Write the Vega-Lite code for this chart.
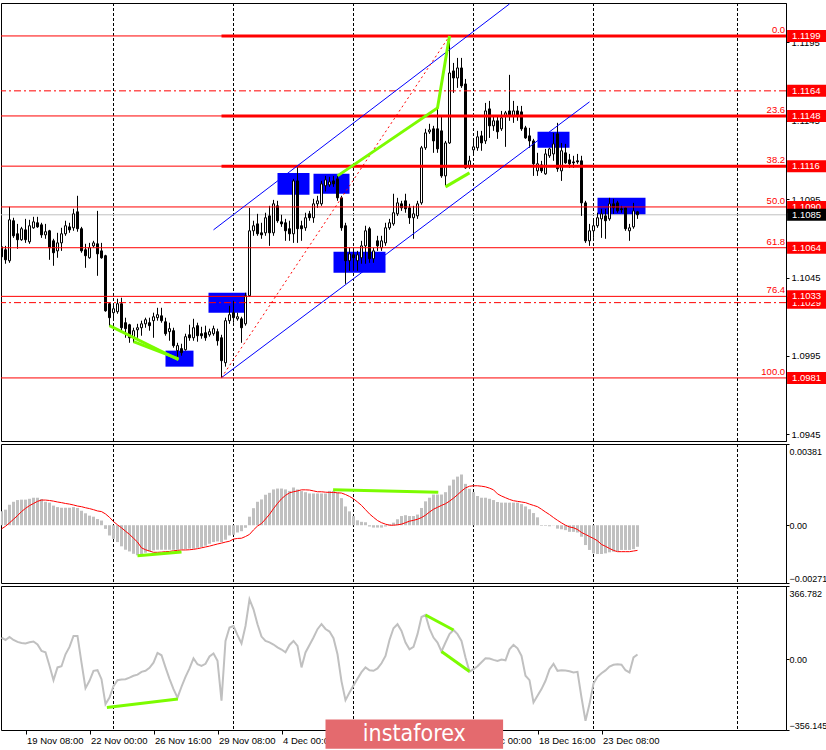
{
"$schema":"https://vega.github.io/schema/vega-lite/v6.json",
"padding":{"left":0,"top":2,"right":0,"bottom":0},
"background":"#ffffff",
"spacing":3,
"bounds":"flush",
"config":{"view":{"stroke":"#000000","strokeWidth":1},"axis":{"labelFont":"Liberation Sans","labelFontSize":9.5,"labelColor":"#000000","tickColor":"#000000","domainColor":"#000000","grid":false},"font":"Liberation Sans"},
"datasets":{
"b":[
{"i":0,"o":1.10646,"h":1.10684,"l":1.10544,"c":1.10582,"m":0.00065,"s":-0.00017,"k":108},
{"i":1,"o":1.10627,"h":1.10652,"l":1.10538,"c":1.10563,"m":0.00073,"s":-0.00005,"k":96},
{"i":2,"o":1.10557,"h":1.10901,"l":1.10544,"c":1.10818,"m":0.00096,"s":0.00011,"k":111},
{"i":3,"o":1.10812,"h":1.10831,"l":1.10703,"c":1.10716,"m":0.0011,"s":0.00028,"k":96},
{"i":4,"o":1.10729,"h":1.10792,"l":1.10633,"c":1.10691,"m":0.00118,"s":0.00045,"k":86},
{"i":5,"o":1.10691,"h":1.10773,"l":1.10684,"c":1.10761,"m":0.0012,"s":0.00064,"k":81},
{"i":6,"o":1.10754,"h":1.10824,"l":1.10671,"c":1.10691,"m":0.0012,"s":0.00079,"k":78},
{"i":7,"o":1.10678,"h":1.10818,"l":1.10665,"c":1.1078,"m":0.00124,"s":0.00092,"k":84},
{"i":8,"o":1.10767,"h":1.10837,"l":1.10761,"c":1.10805,"m":0.00129,"s":0.00102,"k":88},
{"i":9,"o":1.10799,"h":1.10837,"l":1.10767,"c":1.10773,"m":0.00129,"s":0.00112,"k":73},
{"i":10,"o":1.10786,"h":1.10799,"l":1.10703,"c":1.10722,"m":0.00123,"s":0.00118,"k":41},
{"i":11,"o":1.10722,"h":1.10792,"l":1.10697,"c":1.10742,"m":0.0011,"s":0.00118,"k":34},
{"i":12,"o":1.10748,"h":1.10754,"l":1.10563,"c":1.1064,"m":0.00106,"s":0.00116,"k":-34},
{"i":13,"o":1.10684,"h":1.10697,"l":1.10525,"c":1.10608,"m":0.00092,"s":0.00113,"k":-106},
{"i":14,"o":1.1062,"h":1.10735,"l":1.10576,"c":1.10671,"m":0.00085,"s":0.00109,"k":-42},
{"i":15,"o":1.10671,"h":1.10767,"l":1.1062,"c":1.10729,"m":0.00082,"s":0.00106,"k":-36},
{"i":16,"o":1.10729,"h":1.10812,"l":1.10716,"c":1.1078,"m":0.00082,"s":0.00102,"k":24},
{"i":17,"o":1.10773,"h":1.10799,"l":1.10735,"c":1.10754,"m":0.00082,"s":0.00099,"k":61},
{"i":18,"o":1.10767,"h":1.10888,"l":1.10748,"c":1.10856,"m":0.00085,"s":0.00095,"k":116},
{"i":19,"o":1.10869,"h":1.10971,"l":1.10742,"c":1.10761,"m":0.00081,"s":0.0009,"k":116},
{"i":20,"o":1.10761,"h":1.10773,"l":1.10608,"c":1.1062,"m":0.00068,"s":0.00087,"k":-18},
{"i":21,"o":1.10627,"h":1.10665,"l":1.10512,"c":1.10589,"m":0.00056,"s":0.00082,"k":-146},
{"i":22,"o":1.10576,"h":1.10671,"l":1.1057,"c":1.1064,"m":0.00045,"s":0.00078,"k":-109},
{"i":23,"o":1.10652,"h":1.10684,"l":1.1064,"c":1.10671,"m":0.0004,"s":0.00073,"k":-59},
{"i":24,"o":1.10665,"h":1.10875,"l":1.10461,"c":1.10601,"m":0.00029,"s":0.00067,"k":-56},
{"i":25,"o":1.1062,"h":1.10671,"l":1.1057,"c":1.10576,"m":0.00022,"s":0.00064,"k":-101},
{"i":26,"o":1.10589,"h":1.10595,"l":1.10232,"c":1.10238,"m":-0.00017,"s":0.00053,"k":-226},
{"i":27,"o":1.10283,"h":1.10289,"l":1.10143,"c":1.10194,"m":-0.00048,"s":0.00037,"k":-193},
{"i":28,"o":1.10226,"h":1.10283,"l":1.10175,"c":1.10251,"m":-0.00064,"s":0.00017,"k":-136},
{"i":29,"o":1.10232,"h":1.10315,"l":1.10219,"c":1.10283,"m":-0.00079,"s":0.00002,"k":-106},
{"i":30,"o":1.10283,"h":1.10321,"l":1.10111,"c":1.1013,"m":-0.00099,"s":-0.00012,"k":-103},
{"i":31,"o":1.10162,"h":1.10194,"l":1.10066,"c":1.10124,"m":-0.00115,"s":-0.00028,"k":-101},
{"i":32,"o":1.10149,"h":1.10155,"l":1.10034,"c":1.10066,"m":-0.00123,"s":-0.00043,"k":-93},
{"i":33,"o":1.10066,"h":1.1013,"l":1.10034,"c":1.10111,"m":-0.00134,"s":-0.00061,"k":-84},
{"i":34,"o":1.10117,"h":1.10155,"l":1.10066,"c":1.1013,"m":-0.00141,"s":-0.00079,"k":-78},
{"i":35,"o":1.1013,"h":1.10175,"l":1.10079,"c":1.10155,"m":-0.00137,"s":-0.00106,"k":-64},
{"i":36,"o":1.10155,"h":1.10194,"l":1.1013,"c":1.10181,"m":-0.00129,"s":-0.00115,"k":-59},
{"i":37,"o":1.10162,"h":1.10194,"l":1.10111,"c":1.10143,"m":-0.00123,"s":-0.00121,"k":-44},
{"i":38,"o":1.10175,"h":1.10226,"l":1.10066,"c":1.102,"m":-0.00118,"s":-0.00127,"k":-18},
{"i":39,"o":1.10194,"h":1.10257,"l":1.10175,"c":1.10213,"m":-0.00115,"s":-0.00127,"k":31},
{"i":40,"o":1.10206,"h":1.10257,"l":1.10162,"c":1.10175,"m":-0.00115,"s":-0.00126,"k":19},
{"i":41,"o":1.10168,"h":1.10194,"l":1.10079,"c":1.10092,"m":-0.00115,"s":-0.00124,"k":-42},
{"i":42,"o":1.10105,"h":1.10162,"l":1.10047,"c":1.10124,"m":-0.00115,"s":-0.00123,"k":-99},
{"i":43,"o":1.10111,"h":1.1013,"l":1.10003,"c":1.10016,"m":-0.00115,"s":-0.0012,"k":-151},
{"i":44,"o":1.09984,"h":1.10034,"l":1.09932,"c":1.10016,"m":-0.00115,"s":-0.00118,"k":-194},
{"i":45,"o":1.09997,"h":1.10028,"l":1.09952,"c":1.09971,"m":-0.00113,"s":-0.00116,"k":-139},
{"i":46,"o":1.0999,"h":1.10092,"l":1.09984,"c":1.10073,"m":-0.00112,"s":-0.00116,"k":-89},
{"i":47,"o":1.10085,"h":1.10149,"l":1.10047,"c":1.10066,"m":-0.0011,"s":-0.00115,"k":-47},
{"i":48,"o":1.10066,"h":1.10187,"l":1.10047,"c":1.1013,"m":-0.0011,"s":-0.00113,"k":3},
{"i":49,"o":1.10143,"h":1.10162,"l":1.10041,"c":1.10079,"m":-0.00106,"s":-0.0011,"k":-26},
{"i":50,"o":1.10092,"h":1.10136,"l":1.1006,"c":1.10079,"m":-0.00102,"s":-0.00106,"k":-34},
{"i":51,"o":1.10098,"h":1.10143,"l":1.10047,"c":1.10066,"m":-0.00096,"s":-0.00102,"k":-24},
{"i":52,"o":1.10085,"h":1.10124,"l":1.10073,"c":1.10105,"m":-0.00087,"s":-0.00098,"k":13},
{"i":53,"o":1.10092,"h":1.10143,"l":1.10079,"c":1.10124,"m":-0.00079,"s":-0.00093,"k":28},
{"i":54,"o":1.10105,"h":1.10124,"l":1.10016,"c":1.10047,"m":-0.00076,"s":-0.00088,"k":-9},
{"i":55,"o":1.10066,"h":1.10085,"l":1.09812,"c":1.0992,"m":-0.00079,"s":-0.00084,"k":-209},
{"i":56,"o":1.09907,"h":1.10194,"l":1.09882,"c":1.10175,"m":-0.00068,"s":-0.00079,"k":91},
{"i":57,"o":1.10175,"h":1.1027,"l":1.10155,"c":1.10213,"m":-0.00048,"s":-0.00075,"k":158},
{"i":58,"o":1.10226,"h":1.10302,"l":1.10162,"c":1.10194,"m":-0.00045,"s":-0.00065,"k":166},
{"i":59,"o":1.10187,"h":1.10226,"l":1.10175,"c":1.102,"m":-0.00034,"s":-0.00062,"k":120},
{"i":60,"o":1.10187,"h":1.102,"l":1.10034,"c":1.1013,"m":-0.00028,"s":-0.00061,"k":78},
{"i":61,"o":1.10155,"h":1.10353,"l":1.10143,"c":1.10334,"m":-0.00012,"s":-0.00053,"k":166},
{"i":62,"o":1.10334,"h":1.10894,"l":1.10328,"c":1.10748,"m":0.0004,"s":-0.00043,"k":300},
{"i":63,"o":1.10748,"h":1.10812,"l":1.10716,"c":1.1078,"m":0.0008,"s":-0.00022,"k":250},
{"i":64,"o":1.10792,"h":1.10856,"l":1.10716,"c":1.10729,"m":0.0011,"s":-0.00004,"k":175},
{"i":65,"o":1.10735,"h":1.10799,"l":1.10697,"c":1.10722,"m":0.00121,"s":0.00008,"k":113},
{"i":66,"o":1.10735,"h":1.10863,"l":1.10716,"c":1.10831,"m":0.00143,"s":0.00029,"k":91},
{"i":67,"o":1.10843,"h":1.10907,"l":1.10652,"c":1.10735,"m":0.00152,"s":0.00051,"k":84},
{"i":68,"o":1.10735,"h":1.10945,"l":1.10716,"c":1.1092,"m":0.00168,"s":0.00078,"k":73},
{"i":69,"o":1.10907,"h":1.10939,"l":1.10799,"c":1.10812,"m":0.00172,"s":0.00102,"k":59},
{"i":70,"o":1.10805,"h":1.1085,"l":1.10773,"c":1.10792,"m":0.00172,"s":0.00124,"k":48},
{"i":71,"o":1.10799,"h":1.10824,"l":1.10684,"c":1.10748,"m":0.00168,"s":0.0014,"k":34},
{"i":72,"o":1.10761,"h":1.10812,"l":1.10684,"c":1.10729,"m":0.00161,"s":0.00152,"k":71},
{"i":73,"o":1.10729,"h":1.11079,"l":1.10671,"c":1.11066,"m":0.00177,"s":0.00157,"k":91},
{"i":74,"o":1.11066,"h":1.11156,"l":1.10671,"c":1.10761,"m":0.00168,"s":0.00161,"k":66},
{"i":75,"o":1.1078,"h":1.10812,"l":1.10684,"c":1.10761,"m":0.0016,"s":0.00166,"k":-42},
{"i":76,"o":1.10767,"h":1.10863,"l":1.10748,"c":1.10831,"m":0.00155,"s":0.00166,"k":33},
{"i":77,"o":1.10856,"h":1.10875,"l":1.10812,"c":1.10831,"m":0.00149,"s":0.00165,"k":71},
{"i":78,"o":1.10831,"h":1.10952,"l":1.10799,"c":1.1092,"m":0.00149,"s":0.00161,"k":108},
{"i":79,"o":1.1092,"h":1.10971,"l":1.10894,"c":1.10939,"m":0.00149,"s":0.00157,"k":150},
{"i":80,"o":1.1092,"h":1.11066,"l":1.10907,"c":1.11047,"m":0.00149,"s":0.00157,"k":176},
{"i":81,"o":1.11035,"h":1.11098,"l":1.10999,"c":1.11073,"m":0.00149,"s":0.00155,"k":151},
{"i":82,"o":1.11041,"h":1.11092,"l":1.11028,"c":1.1106,"m":0.00161,"s":0.00154,"k":138},
{"i":83,"o":1.11066,"h":1.11098,"l":1.11028,"c":1.11047,"m":0.00161,"s":0.00154,"k":105},
{"i":84,"o":1.11079,"h":1.11098,"l":1.10939,"c":1.10958,"m":0.00152,"s":0.00152,"k":24},
{"i":85,"o":1.10958,"h":1.10971,"l":1.10748,"c":1.10767,"m":0.00127,"s":0.00151,"k":-112},
{"i":86,"o":1.1078,"h":1.10799,"l":1.1041,"c":1.10557,"m":0.00088,"s":0.00144,"k":-206},
{"i":87,"o":1.10557,"h":1.1064,"l":1.10493,"c":1.10601,"m":0.00065,"s":0.00135,"k":-168},
{"i":88,"o":1.10595,"h":1.1062,"l":1.10493,"c":1.10576,"m":0.00043,"s":0.00124,"k":-133},
{"i":89,"o":1.10557,"h":1.1062,"l":1.10493,"c":1.10595,"m":0.00023,"s":0.00109,"k":-99},
{"i":90,"o":1.10576,"h":1.10684,"l":1.10538,"c":1.10652,"m":0.00016,"s":0.00093,"k":-66},
{"i":91,"o":1.10652,"h":1.1078,"l":1.10538,"c":1.10748,"m":0.00014,"s":0.00073,"k":-42},
{"i":92,"o":1.10761,"h":1.10773,"l":1.10544,"c":1.1057,"m":-0.00006,"s":0.00053,"k":-56},
{"i":93,"o":1.1057,"h":1.1064,"l":1.10544,"c":1.1062,"m":-0.00011,"s":0.00037,"k":-59},
{"i":94,"o":1.10684,"h":1.10716,"l":1.1062,"c":1.10652,"m":-0.00011,"s":0.00022,"k":-47},
{"i":95,"o":1.1064,"h":1.10716,"l":1.1062,"c":1.10684,"m":-0.00011,"s":0.00012,"k":-21},
{"i":96,"o":1.10671,"h":1.10799,"l":1.10652,"c":1.10767,"m":-0.00006,"s":0.00005,"k":16},
{"i":97,"o":1.10767,"h":1.10824,"l":1.10754,"c":1.10799,"m":0.00005,"s":0,"k":96},
{"i":98,"o":1.10792,"h":1.10984,"l":1.1078,"c":1.10863,"m":0.00012,"s":0,"k":155},
{"i":99,"o":1.10856,"h":1.10958,"l":1.10843,"c":1.10926,"m":0.00028,"s":0.00002,"k":175},
{"i":100,"o":1.1092,"h":1.10939,"l":1.10875,"c":1.10894,"m":0.00043,"s":0.00005,"k":141},
{"i":101,"o":1.10939,"h":1.10984,"l":1.10863,"c":1.10888,"m":0.00047,"s":0.00012,"k":83},
{"i":102,"o":1.10894,"h":1.1092,"l":1.10792,"c":1.10831,"m":0.00043,"s":0.00019,"k":49},
{"i":103,"o":1.10831,"h":1.10907,"l":1.10697,"c":1.10856,"m":0.00043,"s":0.00023,"k":61},
{"i":104,"o":1.10843,"h":1.10939,"l":1.10824,"c":1.1092,"m":0.0005,"s":0.00028,"k":125},
{"i":105,"o":1.10926,"h":1.11289,"l":1.10914,"c":1.11277,"m":0.00081,"s":0.00036,"k":211},
{"i":106,"o":1.11277,"h":1.11398,"l":1.11264,"c":1.11372,"m":0.00112,"s":0.00047,"k":221},
{"i":107,"o":1.11379,"h":1.1143,"l":1.11366,"c":1.11391,"m":0.00129,"s":0.00062,"k":153},
{"i":108,"o":1.11398,"h":1.11417,"l":1.11245,"c":1.11321,"m":0.00144,"s":0.00075,"k":108},
{"i":109,"o":1.11398,"h":1.11531,"l":1.11245,"c":1.1127,"m":0.00144,"s":0.00084,"k":83},
{"i":110,"o":1.11385,"h":1.1148,"l":1.11086,"c":1.11098,"m":0.00144,"s":0.00093,"k":38},
{"i":111,"o":1.11098,"h":1.11321,"l":1.11035,"c":1.11308,"m":0.00155,"s":0.00101,"k":83},
{"i":112,"o":1.11308,"h":1.1199,"l":1.11302,"c":1.11754,"m":0.00186,"s":0.00113,"k":125},
{"i":113,"o":1.11767,"h":1.11818,"l":1.11627,"c":1.11722,"m":0.00214,"s":0.00127,"k":146},
{"i":114,"o":1.11722,"h":1.1185,"l":1.11659,"c":1.11786,"m":0.00228,"s":0.00143,"k":125},
{"i":115,"o":1.11786,"h":1.1185,"l":1.11659,"c":1.11672,"m":0.00238,"s":0.0016,"k":91},
{"i":116,"o":1.11684,"h":1.11716,"l":1.11143,"c":1.11149,"m":0.00194,"s":0.00175,"k":8},
{"i":117,"o":1.11162,"h":1.11226,"l":1.11143,"c":1.11194,"m":0.00171,"s":0.00183,"k":-63},
{"i":118,"o":1.11264,"h":1.11321,"l":1.11226,"c":1.11283,"m":0.00155,"s":0.00185,"k":-51},
{"i":119,"o":1.11277,"h":1.11385,"l":1.11258,"c":1.11347,"m":0.00137,"s":0.00185,"k":-36},
{"i":120,"o":1.11353,"h":1.11385,"l":1.11258,"c":1.11308,"m":0.00129,"s":0.00183,"k":-16},
{"i":121,"o":1.11321,"h":1.11563,"l":1.11302,"c":1.11512,"m":0.00129,"s":0.0018,"k":4},
{"i":122,"o":1.11525,"h":1.11576,"l":1.1134,"c":1.11417,"m":0.00124,"s":0.00174,"k":3},
{"i":123,"o":1.11417,"h":1.1148,"l":1.11385,"c":1.11449,"m":0.00118,"s":0.00166,"k":-4},
{"i":124,"o":1.11449,"h":1.1148,"l":1.11334,"c":1.11379,"m":0.00109,"s":0.00147,"k":-9},
{"i":125,"o":1.11398,"h":1.11512,"l":1.11385,"c":1.11468,"m":0.00106,"s":0.00137,"k":-2},
{"i":126,"o":1.1148,"h":1.11512,"l":1.11283,"c":1.115,"m":0.00106,"s":0.00129,"k":-6},
{"i":127,"o":1.11512,"h":1.11742,"l":1.11449,"c":1.1148,"m":0.00106,"s":0.00121,"k":49},
{"i":128,"o":1.1148,"h":1.11576,"l":1.11436,"c":1.11512,"m":0.00106,"s":0.00115,"k":71},
{"i":129,"o":1.11512,"h":1.11544,"l":1.11449,"c":1.1148,"m":0.00106,"s":0.00112,"k":54},
{"i":130,"o":1.11506,"h":1.11544,"l":1.11385,"c":1.11398,"m":0.00099,"s":0.00109,"k":16},
{"i":131,"o":1.11404,"h":1.11417,"l":1.11334,"c":1.1134,"m":0.00088,"s":0.00106,"k":-84},
{"i":132,"o":1.11353,"h":1.11404,"l":1.11277,"c":1.11321,"m":0.00075,"s":0.00099,"k":-106},
{"i":133,"o":1.11321,"h":1.11334,"l":1.11098,"c":1.11175,"m":0.00057,"s":0.00093,"k":-218},
{"i":134,"o":1.1113,"h":1.11245,"l":1.11098,"c":1.11175,"m":0.00037,"s":0.00087,"k":-184},
{"i":135,"o":1.11168,"h":1.11194,"l":1.11117,"c":1.1113,"m":-0.00003,"s":0.00075,"k":-151},
{"i":136,"o":1.11111,"h":1.1127,"l":1.11105,"c":1.11238,"m":-0.00003,"s":0.00062,"k":-109},
{"i":137,"o":1.11226,"h":1.11277,"l":1.11213,"c":1.1127,"m":-0.00005,"s":0.0005,"k":-52},
{"i":138,"o":1.11238,"h":1.11372,"l":1.11194,"c":1.11302,"m":-0.00001,"s":0.00036,"k":-24},
{"i":139,"o":1.11366,"h":1.11436,"l":1.11124,"c":1.11143,"m":-0.00016,"s":0.00023,"k":-59},
{"i":140,"o":1.1113,"h":1.11308,"l":1.11066,"c":1.11258,"m":-0.00019,"s":0.00011,"k":-56},
{"i":141,"o":1.11245,"h":1.11302,"l":1.11175,"c":1.11181,"m":-0.00023,"s":0,"k":-57},
{"i":142,"o":1.112,"h":1.11238,"l":1.11149,"c":1.11175,"m":-0.00031,"s":-0.00008,"k":-61},
{"i":143,"o":1.11187,"h":1.11226,"l":1.11149,"c":1.11181,"m":-0.00031,"s":-0.00012,"k":-67},
{"i":144,"o":1.11194,"h":1.11238,"l":1.11175,"c":1.11187,"m":-0.00034,"s":-0.0002,"k":-64},
{"i":145,"o":1.11194,"h":1.11226,"l":1.10843,"c":1.10926,"m":-0.00054,"s":-0.00034,"k":-193},
{"i":146,"o":1.10926,"h":1.10939,"l":1.10671,"c":1.10684,"m":-0.00093,"s":-0.00043,"k":-310},
{"i":147,"o":1.10684,"h":1.10792,"l":1.10652,"c":1.10748,"m":-0.00116,"s":-0.00053,"k":-226},
{"i":148,"o":1.10748,"h":1.10812,"l":1.10703,"c":1.1078,"m":-0.00132,"s":-0.00062,"k":-123},
{"i":149,"o":1.1078,"h":1.10863,"l":1.10767,"c":1.10831,"m":-0.00135,"s":-0.00073,"k":-89},
{"i":150,"o":1.10824,"h":1.10888,"l":1.10703,"c":1.10856,"m":-0.00135,"s":-0.0009,"k":-71},
{"i":151,"o":1.10843,"h":1.10888,"l":1.10697,"c":1.10812,"m":-0.00132,"s":-0.00099,"k":-57},
{"i":152,"o":1.10824,"h":1.10958,"l":1.10812,"c":1.1092,"m":-0.00127,"s":-0.00109,"k":-38},
{"i":153,"o":1.1092,"h":1.10952,"l":1.10856,"c":1.10894,"m":-0.00124,"s":-0.00118,"k":-29},
{"i":154,"o":1.10926,"h":1.10939,"l":1.10863,"c":1.10875,"m":-0.00121,"s":-0.00124,"k":-26},
{"i":155,"o":1.10888,"h":1.10907,"l":1.10863,"c":1.10882,"m":-0.00116,"s":-0.00124,"k":-28},
{"i":156,"o":1.10894,"h":1.10897,"l":1.10748,"c":1.10761,"m":-0.00116,"s":-0.00124,"k":-56},
{"i":157,"o":1.10748,"h":1.10792,"l":1.10684,"c":1.10767,"m":-0.00116,"s":-0.00124,"k":-67},
{"i":158,"o":1.10773,"h":1.10926,"l":1.10761,"c":1.10875,"m":-0.00112,"s":-0.00121,"k":8},
{"i":159,"o":1.10869,"h":1.10875,"l":1.10824,"c":1.1085,"m":-0.00101,"s":-0.00118,"k":23}
],
"grid":[{"g":28},{"g":58},{"g":88},{"g":118},{"g":148},{"g":184}],
"hl":[{"p":1.1199},{"p":1.1148},{"p":1.1116},{"p":1.109},{"p":1.1064},{"p":1.1033},{"p":1.0981}],
"dd":[{"p":1.1164},{"p":1.1029}],
"fib":[{"p":1.1199,"t":"0.0"},{"p":1.1148,"t":"23.6"},{"p":1.1116,"t":"38.2"},{"p":1.109,"t":"50.0"},{"p":1.1064,"t":"61.8"},{"p":1.1033,"t":"76.4"},{"p":1.0981,"t":"100.0"}],
"tags":[{"p":1.1199},{"p":1.1164},{"p":1.1148},{"p":1.1116},{"p":1.109},{"p":1.1064},{"p":1.1029},{"p":1.1033},{"p":1.0981}],
"bid":[{"p":1.1085}],
"zones":[{"x1":51.75,"x2":61.25,"y1":1.10353,"y2":1.10226},{"x1":41,"x2":48,"y1":1.09984,"y2":1.09882},{"x1":69,"x2":77,"y1":1.11117,"y2":1.10977},{"x1":78,"x2":87,"y1":1.11111,"y2":1.10984},{"x1":83,"x2":96,"y1":1.10614,"y2":1.1048},{"x1":134,"x2":142,"y1":1.11379,"y2":1.11277},{"x1":149,"x2":161,"y1":1.10958,"y2":1.1085}],
"gp":[{"g":"a","i":27,"p":1.10143},{"g":"a","i":44.25,"p":1.09926},{"g":"b","i":33,"p":1.10041},{"g":"b","i":44.25,"p":1.09932},{"g":"c","i":84,"p":1.11098},{"g":"c","i":109,"p":1.11531},{"g":"c","i":112,"p":1.1199},{"g":"d","i":111,"p":1.11028},{"g":"d","i":117,"p":1.11117}],
"bl":[{"g":"u","i":53,"p":1.10754},{"g":"u","i":127,"p":1.12194},{"g":"l","i":55,"p":1.09812},{"g":"l","i":147,"p":1.1157}],
"rd":[{"i":55,"p":1.09812},{"i":112,"p":1.1199}],
"gm":[{"g":"a","i":34,"v":-0.00143},{"g":"a","i":45,"v":-0.00126},{"g":"b","i":82.9,"v":0.00166},{"g":"b","i":109.2,"v":0.00155}],
"gc":[{"g":"a","i":26.35,"v":-243},{"g":"a","i":44.1,"v":-201},{"g":"b","i":106,"v":221},{"g":"b","i":113,"v":146},{"g":"c","i":110,"v":38},{"g":"c","i":117,"v":-62}],
"wm":[{"t":"instaforex"}]
},
"vconcat":[
{
"width":785,"height":438,
"layer":[
{"data":{"name":"grid"},"mark":{"type":"rule","color":"#000000","strokeDash":[3,2],"strokeWidth":1},"encoding":{"x":{"field":"g","type":"quantitative","scale":{"domain":[-0.125,196.125],"nice":false,"zero":false,"padding":0},"axis":null}}},
{"data":{"name":"zones"},"mark":{"type":"rect","color":"#0000ff","clip":true},"encoding":{"x":{"field":"x1","type":"quantitative"},"x2":{"field":"x2"},"y":{"field":"y1","type":"quantitative","scale":{"domain":[1.09408,1.122],"zero":false,"nice":false,"padding":0},"axis":{"orient":"right","values":[1.0945,1.097,1.0995,1.102,1.1045,1.107,1.1095,1.112,1.1145,1.117,1.1195,1.122],"format":".4f","title":null,"tickSize":3,"labelPadding":2,"labelFlush":true}},"y2":{"field":"y2"}}},
{"data":{"name":"bid"},"mark":{"type":"rule","color":"#c0c0c0","strokeWidth":1},"encoding":{"y":{"field":"p","type":"quantitative"}}},
{"data":{"name":"b"},"mark":{"type":"rule","color":"#000000","strokeWidth":1,"clip":true},"encoding":{"x":{"field":"i","type":"quantitative"},"y":{"field":"l","type":"quantitative"},"y2":{"field":"h"}}},
{"data":{"name":"b"},"mark":{"type":"bar","size":2,"stroke":"#000000","strokeWidth":1,"clip":true},"encoding":{"x":{"field":"i","type":"quantitative"},"y":{"field":"o","type":"quantitative"},"y2":{"field":"c"},"fill":{"condition":{"test":"datum.c > datum.o","value":"#ffffff"},"value":"#000000"}}},
{"data":{"name":"hl"},"mark":{"type":"rule","color":"#ff0000","strokeWidth":1},"encoding":{"y":{"field":"p","type":"quantitative"}}},
{"data":{"name":"dd"},"mark":{"type":"rule","color":"#ff0000","strokeWidth":1,"strokeDash":[7,3,2,3]},"encoding":{"y":{"field":"p","type":"quantitative"}}},
{"data":{"name":"fib"},"transform":[{"filter":"datum.p > 1.111"}],"mark":{"type":"rule","color":"#ff0000","strokeWidth":3},"encoding":{"x":{"datum":55,"type":"quantitative"},"x2":{"datum":196.125},"y":{"field":"p","type":"quantitative"}}},
{"data":{"name":"bl"},"mark":{"type":"line","color":"#0000ff","strokeWidth":1,"clip":true},"encoding":{"x":{"field":"i","type":"quantitative"},"y":{"field":"p","type":"quantitative"},"detail":{"field":"g"}}},
{"data":{"name":"rd"},"mark":{"type":"line","color":"#ff0000","strokeWidth":1,"strokeDash":[2,3],"clip":true},"encoding":{"x":{"field":"i","type":"quantitative"},"y":{"field":"p","type":"quantitative"}}},
{"data":{"name":"gp"},"mark":{"type":"line","color":"#7cfc00","strokeWidth":3,"clip":true},"encoding":{"x":{"field":"i","type":"quantitative"},"y":{"field":"p","type":"quantitative"},"detail":{"field":"g"}}},
{"data":{"name":"fib"},"mark":{"type":"text","color":"#ff0000","fontSize":9.5,"font":"Liberation Sans","align":"right","baseline":"bottom","dy":-1},"encoding":{"x":{"datum":195.9,"type":"quantitative"},"y":{"field":"p","type":"quantitative"},"text":{"field":"t"}}},
{"data":{"name":"tags"},"transform":[{"filter":"datum.p != 1.1033"}],"mark":{"type":"rect","color":"#ff0000","clip":false,"yOffset":-6,"y2Offset":6},"encoding":{"x":{"datum":196.4,"type":"quantitative"},"x2":{"datum":206.5},"y":{"field":"p","type":"quantitative"},"y2":{"field":"p"}}},
{"data":{"name":"tags"},"transform":[{"filter":"datum.p != 1.1033"}],"mark":{"type":"text","color":"#ffffff","fontSize":9.5,"font":"Liberation Sans","align":"left","baseline":"middle","dx":5,"clip":false},"encoding":{"x":{"datum":196.4,"type":"quantitative"},"y":{"field":"p","type":"quantitative"},"text":{"field":"p","type":"quantitative","format":".4f"}}},
{"data":{"name":"tags"},"transform":[{"filter":"datum.p == 1.1033"}],"mark":{"type":"rect","color":"#ff0000","clip":false,"yOffset":-6,"y2Offset":6},"encoding":{"x":{"datum":196.4,"type":"quantitative"},"x2":{"datum":206.5},"y":{"field":"p","type":"quantitative"},"y2":{"field":"p"}}},
{"data":{"name":"tags"},"transform":[{"filter":"datum.p == 1.1033"}],"mark":{"type":"text","color":"#ffffff","fontSize":9.5,"font":"Liberation Sans","align":"left","baseline":"middle","dx":5,"clip":false},"encoding":{"x":{"datum":196.4,"type":"quantitative"},"y":{"field":"p","type":"quantitative"},"text":{"field":"p","type":"quantitative","format":".4f"}}},
{"data":{"name":"bid"},"mark":{"type":"rect","color":"#000000","clip":false,"yOffset":-6,"y2Offset":6},"encoding":{"x":{"datum":196.4,"type":"quantitative"},"x2":{"datum":206.5},"y":{"field":"p","type":"quantitative"},"y2":{"field":"p"}}},
{"data":{"name":"bid"},"mark":{"type":"text","color":"#ffffff","fontSize":9.5,"font":"Liberation Sans","align":"left","baseline":"middle","dx":5,"clip":false},"encoding":{"x":{"datum":196.4,"type":"quantitative"},"y":{"field":"p","type":"quantitative"},"text":{"field":"p","type":"quantitative","format":".4f"}}}
]
},
{
"width":785,"height":139,
"layer":[
{"data":{"name":"grid"},"mark":{"type":"rule","color":"#000000","strokeDash":[3,2],"strokeWidth":1},"encoding":{"x":{"field":"g","type":"quantitative","scale":{"domain":[-0.125,196.125],"nice":false,"zero":false,"padding":0},"axis":null}}},
{"data":{"name":"b"},"mark":{"type":"bar","size":3,"color":"#c0c0c0","clip":true},"encoding":{"x":{"field":"i","type":"quantitative"},"y":{"field":"m","type":"quantitative","scale":{"domain":[-0.00271,0.00381],"zero":false,"nice":false,"padding":0},"axis":{"orient":"right","values":[-0.00271,0,0.00381],"labelExpr":"datum.value==0?'0.00':format(datum.value,'.5f')","title":null,"tickSize":3,"labelPadding":0,"labelFontSize":9,"labelFlush":true,"labelOffset":{"condition":{"test":"datum.value > 0","value":3},"value":0}}},"y2":{"datum":0}}},
{"data":{"name":"b"},"mark":{"type":"line","color":"#ff0000","strokeWidth":1,"clip":true},"encoding":{"x":{"field":"i","type":"quantitative"},"y":{"field":"s","type":"quantitative"}}},
{"data":{"name":"gm"},"mark":{"type":"line","color":"#7cfc00","strokeWidth":3,"clip":true},"encoding":{"x":{"field":"i","type":"quantitative"},"y":{"field":"v","type":"quantitative"},"detail":{"field":"g"}}}
]
},
{
"width":785,"height":144,
"layer":[
{"data":{"name":"grid"},"mark":{"type":"rule","color":"#000000","strokeDash":[3,2],"strokeWidth":1},"encoding":{"x":{"field":"g","type":"quantitative","scale":{"domain":[-0.125,196.125],"nice":false,"zero":false,"padding":0},"axis":{"values":[6,22,38,54,70,86,102,118,134,150],"labelExpr":"datum.value==6?'19 Nov 08:00':datum.value==22?'22 Nov 00:00':datum.value==38?'26 Nov 16:00':datum.value==54?'29 Nov 08:00':datum.value==70?'4 Dec 00:00':datum.value==86?'6 Dec 16:00':datum.value==102?'11 Dec 08:00':datum.value==118?'16 Dec 00:00':datum.value==134?'18 Dec 16:00':'23 Dec 08:00'","labelAlign":"left","labelOffset":1,"domain":false,"tickSize":4,"labelPadding":1,"labelOverlap":false,"labelBound":false,"title":null}}}},
{"data":{"name":"b"},"mark":{"type":"line","color":"#c0c0c0","strokeWidth":2,"clip":true},"encoding":{"x":{"field":"i","type":"quantitative"},"y":{"field":"k","type":"quantitative","scale":{"domain":[-356.145,366.782],"zero":false,"nice":false,"padding":0},"axis":{"orient":"right","values":[-356.145,0,366.782],"labelExpr":"datum.value==0?'0.00':format(datum.value,'.3f')","title":null,"tickSize":3,"labelPadding":0,"labelFontSize":9,"labelFlush":true,"labelOffset":{"condition":{"test":"datum.value > 0","value":3},"value":0}}}}},
{"data":{"name":"gc"},"mark":{"type":"line","color":"#7cfc00","strokeWidth":3,"clip":true},"encoding":{"x":{"field":"i","type":"quantitative"},"y":{"field":"v","type":"quantitative"},"detail":{"field":"g"}}},
{"data":{"name":"wm"},"mark":{"type":"rect","color":"#e46a6e","clip":false},"encoding":{"x":{"datum":81,"type":"quantitative"},"x2":{"datum":125.4},"y":{"datum":-304,"type":"quantitative"},"y2":{"datum":-450}}},
{"data":{"name":"wm"},"mark":{"type":"text","color":"#ffffff","fontSize":23,"font":"Liberation Sans Narrow, DejaVu Sans Condensed, sans-serif","align":"center","baseline":"middle","clip":false},"encoding":{"x":{"datum":103.2,"type":"quantitative"},"y":{"datum":-374,"type":"quantitative"},"text":{"field":"t"}}}
]
}
]
}
